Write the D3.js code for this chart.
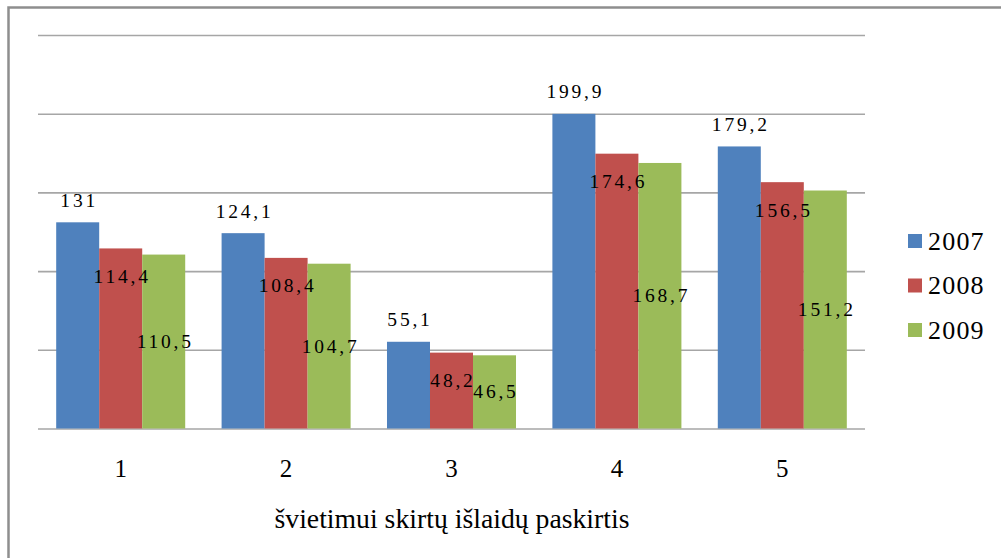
<!DOCTYPE html>
<html>
<head>
<meta charset="utf-8">
<script src="https://cdn.jsdelivr.net/npm/d3@7"></script>
<style>
  body { margin: 0; background: #fff; }
  svg { display: block; }
</style>
</head>
<body>
<svg></svg>
<script>
const categories = ['1', '2', '3', '4', '5'];
const years = ['2007', '2008', '2009'];
const values2007 = [131, 124.1, 55.1, 199.9, 179.2];
const values2008 = [114.4, 108.4, 48.2, 174.6, 156.5];
const values2009 = [110.5, 104.7, 46.5, 168.7, 151.2];
const yTicks = [0, 50, 100, 150, 200, 250];
const axisTitle = 'švietimui skirtų išlaidų paskirtis';

const colors = ['#4f81bd', '#c0504d', '#9bbb59'];
const seriesValues = [values2007, values2008, values2009];

const width = 1001;
const height = 558;
const plotLeft = 38;
const plotRight = 865;
const plotTop = 35;
const plotBottom = 428.5;
const serif = '"Liberation Serif"';

const svg = d3.select('svg')
  .attr('width', width)
  .attr('height', height);

const fmt = d3.formatLocale({ decimal: ',', thousands: ' ', grouping: [3], currency: ['', ''] }).format('.1~f');

// outer frame (only left and top edges are visible in the picture)
svg.append('rect')
   .attr('x', 8.5)
   .attr('y', 7.5)
   .attr('width', width + 20)
   .attr('height', height + 20)
   .attr('fill', 'none')
   .attr('stroke', '#8e8e8e')
   .attr('stroke-width', 2.5);

const x0 = d3.scaleBand()
  .domain(categories)
  .range([plotLeft, plotRight])
  .paddingInner(0.22)
  .paddingOuter(0.11);

const x1 = d3.scaleBand()
  .domain(years)
  .range([0, x0.bandwidth()]);

const y = d3.scaleLinear()
  .domain([0, 250])
  .range([plotBottom, plotTop]);

// gridlines
const grid = svg.append('g')
  .attr('transform', 'translate(' + plotLeft + ',0)')
  .call(d3.axisLeft(y).tickValues(yTicks).tickSize(-(plotRight - plotLeft)).tickFormat(''));
grid.select('.domain').remove();
grid.selectAll('line').attr('stroke', '#a6a6a6').attr('stroke-width', 1.6);

// flatten into one row per bar
const rows = [];
categories.forEach((c, i) => {
  years.forEach((yr, s) => {
    rows.push({ cat: c, year: yr, s: s, v: seriesValues[s][i] });
  });
});

svg.append('g')
   .selectAll('rect')
   .data(rows)
   .enter()
   .append('rect')
   .attr('x', (d) => x0(d.cat) + x1(d.year))
   .attr('y', (d) => y(d.v))
   .attr('width', x1.bandwidth())
   .attr('height', (d) => y(0) - y(d.v))
   .attr('fill', (d) => colors[d.s]);

// data labels: 2007 outside end, 2008 inside end, 2009 centred
const labelY = (d) => {
  if (d.s === 0) return y(d.v) - 22;
  if (d.s === 1) return y(d.v) + 28;
  return (y(d.v) + y(0)) / 2;
};

svg.append('g')
   .selectAll('text')
   .data(rows)
   .enter()
   .append('text')
   .attr('x', (d) => x0(d.cat) + x1(d.year) + x1.bandwidth() / 2 + 1.5)
   .attr('y', labelY)
   .attr('text-anchor', 'middle')
   .attr('dominant-baseline', 'central')
   .style('font-family', serif)
   .style('font-size', '19.5px')
   .style('letter-spacing', '2.8px')
   .attr('fill', '#000')
   .text((d) => fmt(d.v));

// category labels
svg.append('g')
   .selectAll('text')
   .data(categories)
   .enter()
   .append('text')
   .attr('x', (d) => x0(d) + x0.bandwidth() / 2)
   .attr('y', 468)
   .attr('text-anchor', 'middle')
   .attr('dominant-baseline', 'central')
   .style('font-family', serif)
   .style('font-size', '25px')
   .text((d) => d);

// axis title
svg.append('text')
   .attr('x', 452)
   .attr('y', 519)
   .attr('text-anchor', 'middle')
   .attr('dominant-baseline', 'central')
   .style('font-family', serif)
   .style('font-size', '27px')
   .attr('textLength', 355)
   .attr('lengthAdjust', 'spacingAndGlyphs')
   .text(axisTitle);

// legend
const legend = svg.append('g')
  .selectAll('g')
  .data(years)
  .enter()
  .append('g')
  .attr('transform', (d, i) => 'translate(908,' + (241 + i * 44.5) + ')');

legend.append('rect')
      .attr('x', 0)
      .attr('y', -7)
      .attr('width', 14)
      .attr('height', 14)
      .attr('fill', (d, i) => colors[i]);

legend.append('text')
      .attr('x', 20)
      .attr('y', 0)
      .attr('dominant-baseline', 'central')
      .style('font-family', serif)
      .style('font-size', '26px')
      .style('letter-spacing', '1.2px')
      .text((d) => d);
</script>
</body>
</html>
